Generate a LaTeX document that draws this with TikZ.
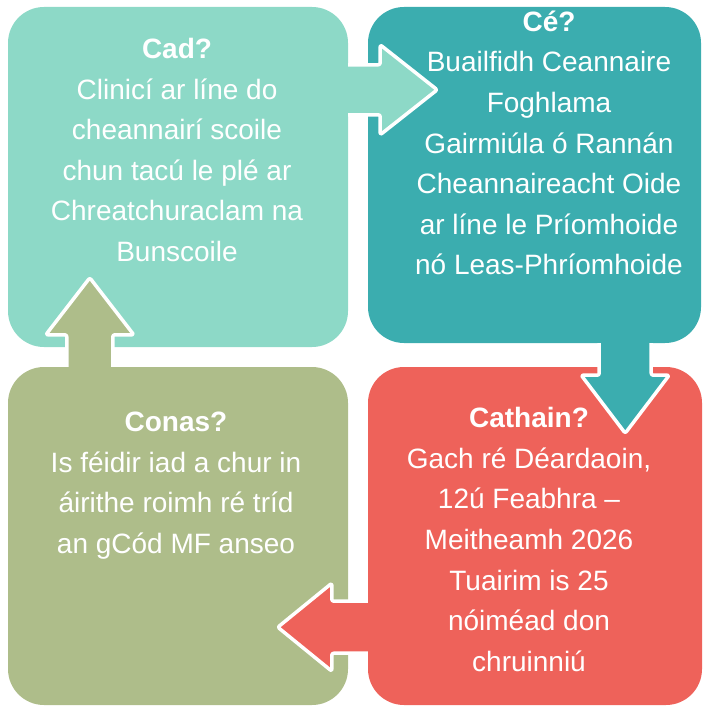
\documentclass[tikz,border=0pt]{standalone}
\usepackage{fontspec}
\setmainfont{Liberation Sans}
\usetikzlibrary{calc}
\definecolor{cadcol}{HTML}{8DD9C7}
\definecolor{cecol}{HTML}{3BADAF}
\definecolor{conascol}{HTML}{AEBD8A}
\definecolor{cathaincol}{HTML}{EE625A}
\begin{document}
\begin{tikzpicture}[
    x=1pt, y=-1pt,
    box/.style={rectangle, rounded corners=36pt, inner sep=0pt},
    txt/.style={text=white, align=center, inner sep=0pt, font=\fontsize{28}{40.6}\selectfont},
    flow/.style={draw=white, line width=3.5pt, line join=round, rounded corners=2pt}
]
\useasboundingbox (0,0) rectangle (703,708);

% Boxes
\node[box, fill=cadcol, minimum width=340pt, minimum height=340pt] (cad) at (178,177) {};
\node[box, fill=cecol, minimum width=333pt, minimum height=336pt] (ce) at (534.5,175) {};
\node[box, fill=conascol, minimum width=340pt, minimum height=338pt] (conas) at (178,536) {};
\node[box, fill=cathaincol, minimum width=334pt, minimum height=338pt] (cathain) at (535,536) {};

% Arrows
\draw[flow, fill=cadcol] ($(cad.north east)+(0,58)$) -- ++(32,0) -- ++(0,-20) -- ++(57,45) -- ++(-57,45) -- ++(0,-20) -- ++(-32,0);
\draw[flow, fill=cecol] ($(ce.south east)+(-102,0)$) -- ++(0,32) -- ++(-18,0) -- ++(44,58) -- ++(44,-58) -- ++(-18,0) -- ++(0,-32);
\draw[flow, fill=cathaincol] ($(cathain.south west)+(0,-104)$) -- ++(-36,0) -- ++(0,-18) -- ++(-54,44) -- ++(54,44) -- ++(0,-18) -- ++(36,0);
\draw[flow, fill=conascol] ($(conas.north west)+(59,0)$) -- ++(0,-32) -- ++(-21,0) -- ++(44,-57) -- ++(44,57) -- ++(-21,0) -- ++(0,32);

% Texts
\node[txt] (cadtxt) at (177,150) {\textbf{Cad?}\\Clinicí ar líne do\\cheannairí scoile\\chun tacú le plé ar\\Chreatchuraclam na\\Bunscoile};
\node[txt] (cetxt) at (549,143) {\textbf{Cé?}\\Buailfidh Ceannaire\\Foghlama\\Gairmiúla ó Rannán\\Cheannaireacht Oide\\ar líne le Príomhoide\\nó Leas-Phríomhoide};
\node[txt] (conastxt) at (176,485.5) {\textbf{Conas?}\\Is féidir iad a chur in\\áirithe roimh ré tríd\\an gCód MF anseo};
\node[txt] (cathaintxt) at (529,539.5) {\textbf{Cathain?}\\Gach ré Déardaoin,\\12ú Feabhra –\\Meitheamh 2026\\Tuairim is 25\\nóiméad don\\chruinniú};
\end{tikzpicture}
\end{document}
